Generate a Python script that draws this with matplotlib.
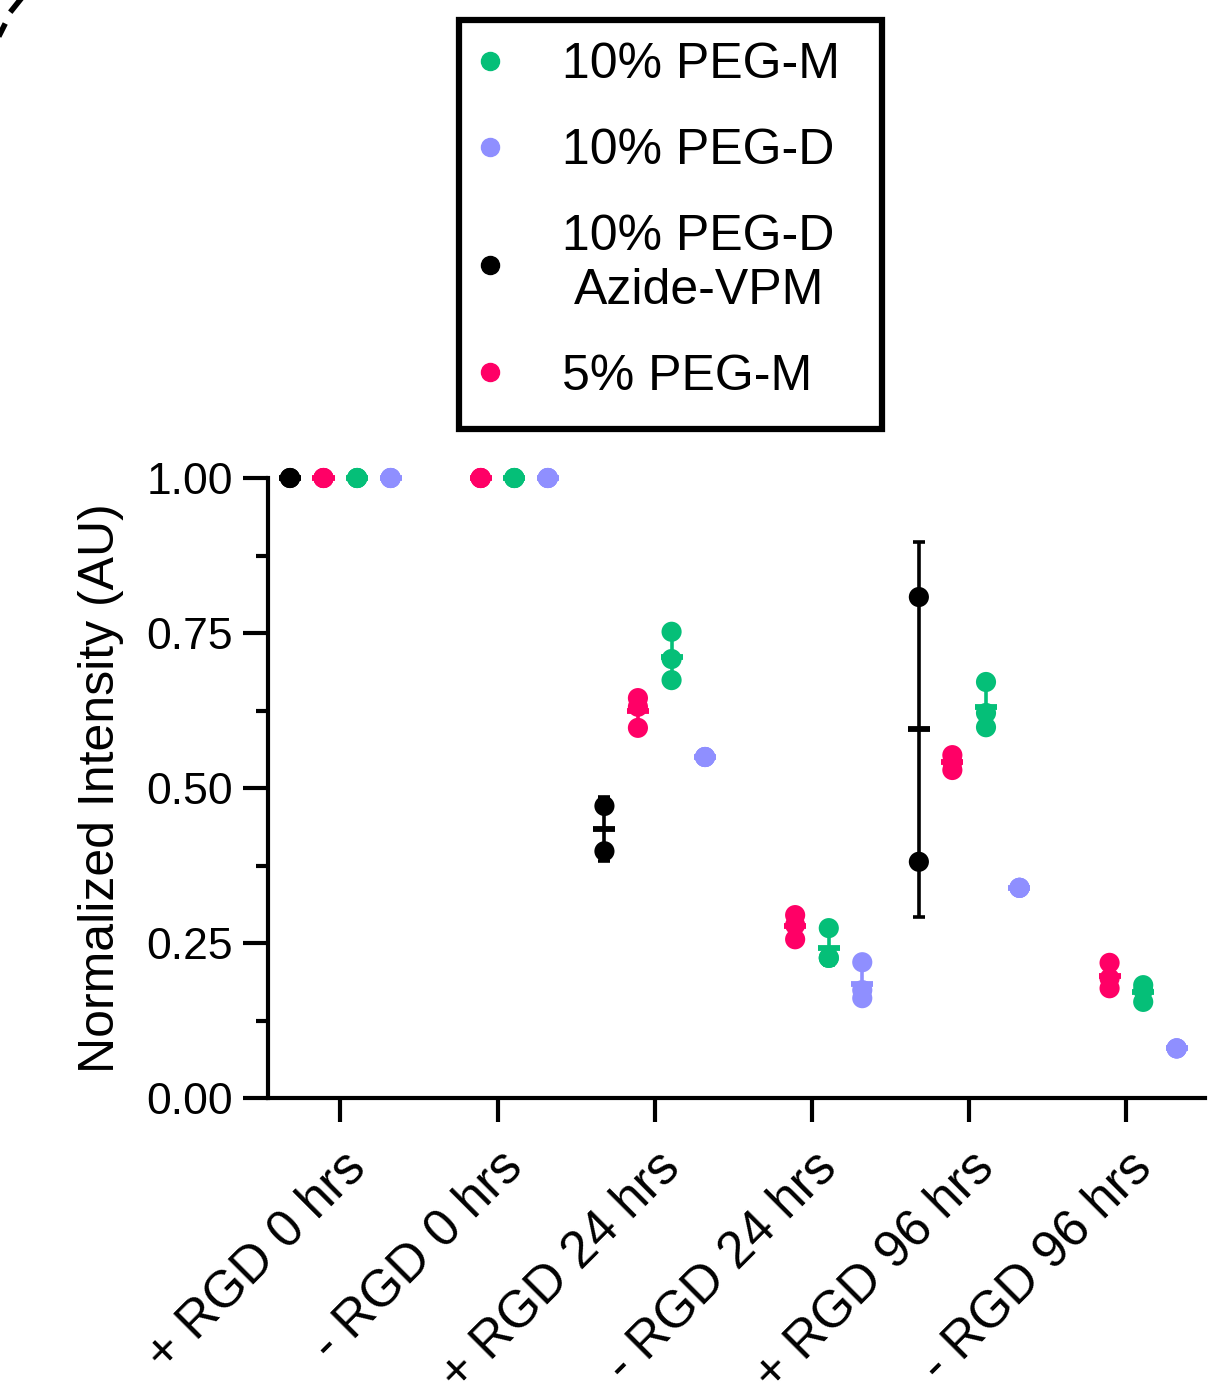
import numpy as np
import matplotlib
matplotlib.use('Agg')
import matplotlib.pyplot as plt
from matplotlib.lines import Line2D
from matplotlib.patches import Rectangle

plt.rcParams['font.family'] = ['Liberation Sans', 'DejaVu Sans']

# categories on the x axis
categories = ['+ RGD 0 hrs', '- RGD 0 hrs', '+ RGD 24 hrs', '- RGD 24 hrs', '+ RGD 96 hrs', '- RGD 96 hrs']

# replicate values per category (empty list = not measured)
peg_d_azide = [[1.0, 1.0], [], [0.471, 0.398], [], [0.808, 0.381], []]
peg_m5 = [[1.0, 1.0, 1.0], [1.0, 1.0, 1.0], [0.645, 0.631, 0.597], [0.295, 0.279, 0.256],
          [0.553, 0.542, 0.529], [0.218, 0.193, 0.177]]
peg_m10 = [[1.0, 1.0, 1.0], [1.0, 1.0, 1.0], [0.752, 0.708, 0.674], [0.274, 0.226, 0.226],
           [0.671, 0.621, 0.598], [0.182, 0.174, 0.155]]
peg_d10 = [[1.0, 1.0, 1.0], [1.0, 1.0, 1.0], [0.550, 0.550, 0.550], [0.219, 0.174, 0.161],
           [0.339, 0.339, 0.339], [0.080, 0.080, 0.080]]

# series in plotting order (left to right inside a group)
series = [
    ('10% PEG-D\nAzide-VPM', peg_d_azide, 'black'),
    ('5% PEG-M', peg_m5, '#FF0066'),
    ('10% PEG-M', peg_m10, '#05BF78'),
    ('10% PEG-D', peg_d10, '#8F8FFF'),
]
offsets = [-0.32, -0.107, 0.107, 0.32]

fig = plt.figure(figsize=(12.24, 13.97), dpi=100)
ax = fig.add_axes([268 / 1224, 299 / 1397, (1205 - 268) / 1224, 620 / 1397])

for (name, data, col), off in zip(series, offsets):
    for i, vals in enumerate(data):
        if len(vals) == 0:
            continue
        x = i + off
        vals = np.array(vals)
        m = vals.mean()
        if len(vals) > 1 and vals.std() > 0:
            sd = vals.std(ddof=1)
            ax.errorbar(x, m, yerr=sd, color=col, lw=2.6, capsize=4, capthick=2.6,
                        fmt='none', zorder=2, clip_on=False)
        ax.scatter(np.full(len(vals), x), vals, s=210, color=col, edgecolors='none',
                   zorder=3, clip_on=False)
        ax.plot([x - 0.07, x + 0.07], [m, m], color=col, lw=4.2, zorder=4,
                solid_capstyle='butt', clip_on=False)

ax.set_xlim(-0.46, 5.5)
ax.set_ylim(0, 1.0)
ax.set_xticks(range(len(categories)))
ax.set_xticklabels(categories, rotation=45, ha='right', rotation_mode='anchor', fontsize=37)
ax.set_yticks([0, 0.25, 0.5, 0.75, 1.0])
ax.set_yticklabels(['0.00', '0.25', '0.50', '0.75', '1.00'], fontsize=32)
ax.set_yticks([0.125, 0.375, 0.625, 0.875], minor=True)
ax.set_ylabel('Normalized Intensity (AU)', fontsize=36, labelpad=16)

for s in ['top', 'right']:
    ax.spines[s].set_visible(False)
for s in ['left', 'bottom']:
    ax.spines[s].set_linewidth(3)
ax.tick_params(axis='y', which='major', length=18, width=3, pad=7)
ax.tick_params(axis='y', which='minor', length=9, width=3)
ax.tick_params(axis='x', which='major', length=17, width=3, pad=15)

# legend (frame drawn separately)
handles = [Line2D([], [], marker='o', ls='none', color=col, markersize=13)
           for _, _, col in [series[2], series[3], series[0], series[1]]]
labels = [series[2][0], series[3][0], series[0][0], series[1][0]]
leg = fig.legend(handles, labels, loc='upper left', bbox_to_anchor=(457 / 1224, 1 - 25 / 1397),
                 fontsize=36, frameon=False, handletextpad=1.16, labelspacing=0.8,
                 borderpad=0.35, handlelength=0.6, borderaxespad=0)
for t in leg.get_texts():
    t.set_multialignment('center')
fig.add_artist(Rectangle((459 / 1224, 1 - 429 / 1397), (882 - 459) / 1224, (429 - 20) / 1397,
                         transform=fig.transFigure, fill=False, edgecolor='black', lw=4.5))

# dashed arc fragment at the top-left corner
for (x0, y0), (x1, y1) in [((12, 10), (20, 0)), ((0, 34), (4, 26))]:
    fig.add_artist(Line2D([x0 / 1224, x1 / 1224], [1 - y0 / 1397, 1 - y1 / 1397],
                          transform=fig.transFigure, color='black', lw=4))

fig.savefig('out.png', dpi=100)
